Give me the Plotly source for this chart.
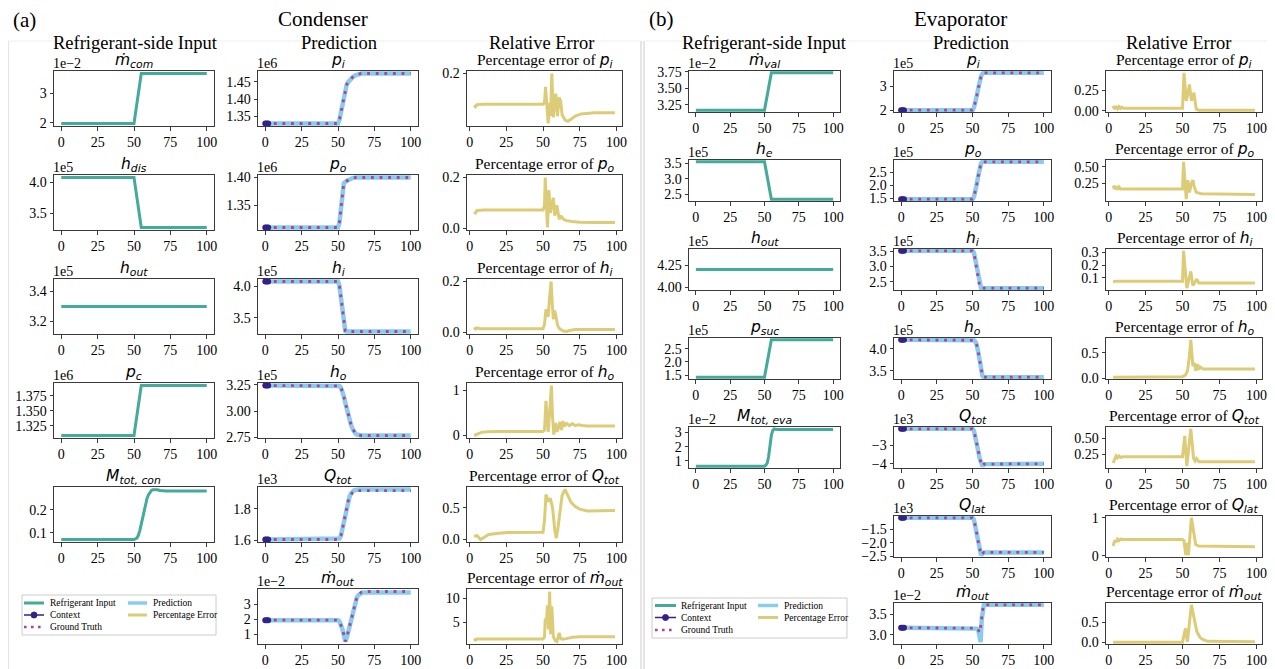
import plotly.graph_objects as go

W, H = 1275, 669
PAGE_OFF = 8  # the browser page margin that offsets the figure
SERIF = "Liberation Serif"
MATHF = "DejaVu Sans"
C_IN, C_PRED, C_GT, C_CTX, C_ERR = "#44AA99", "#88CCEE", "#AA4499", "#332288", "#DDCC77"
FRAME = "#3a3a3a"

# ---------------- Condenser : refrigerant-side inputs ----------------
con_mcom_x = [0, 50, 55, 100]
con_mcom_y = [1.97, 1.97, 3.69, 3.69]
con_hdis_x = [0, 50, 55, 100]
con_hdis_y = [4.08, 4.08, 3.27, 3.27]
con_hout_x = [0, 100]
con_hout_y = [3.30, 3.30]
con_pc_x = [0, 50, 55, 100]
con_pc_y = [1.3085, 1.3085, 1.3925, 1.3925]
con_mtot_x = [0, 50, 52, 53, 54, 55, 56, 57, 58, 59, 60, 61, 62, 63, 64, 66, 68, 72, 100]
con_mtot_y = [0.072, 0.072, 0.078, 0.09, 0.11, 0.14, 0.17, 0.20, 0.23, 0.25, 0.265, 0.277,
              0.283, 0.286, 0.287, 0.286, 0.283, 0.281, 0.281]

# ---------------- Condenser : prediction ----------------
ctx_x = [0, 1, 2]
con_pi_x = [0, 50, 51, 52, 53, 54, 55, 56, 57, 58, 60, 62, 64, 66, 100]
con_pi_gt = [1.329, 1.329, 1.34, 1.36, 1.385, 1.41, 1.43, 1.442, 1.449, 1.455, 1.463, 1.469, 1.472, 1.474, 1.474]
con_pi_pr = [1.329, 1.329, 1.34, 1.36, 1.385, 1.41, 1.43, 1.442, 1.449, 1.455, 1.463, 1.469, 1.472, 1.474, 1.474]
con_po_x = [0, 50, 51, 52, 53, 54, 56, 58, 60, 62, 64, 100]
con_po_gt = [1.311, 1.311, 1.32, 1.345, 1.37, 1.390, 1.394, 1.397, 1.399, 1.400, 1.400, 1.400]
con_po_pr = [1.311, 1.311, 1.32, 1.345, 1.37, 1.390, 1.394, 1.397, 1.399, 1.400, 1.400, 1.400]
con_hi_x = [0, 50, 51, 54, 55, 56, 100]
con_hi_gt = [4.073, 4.073, 4.00, 3.40, 3.29, 3.28, 3.28]
con_hi_pr = [4.073, 4.073, 4.00, 3.40, 3.29, 3.28, 3.28]
con_ho_x = [0, 50, 51, 52, 53, 54, 55, 56, 57, 58, 59, 60, 61, 62, 63, 64, 66, 100]
con_ho_gt = [3.244, 3.244, 3.240, 3.225, 3.19, 3.14, 3.08, 3.02, 2.96, 2.91, 2.865, 2.83, 2.80,
             2.785, 2.775, 2.770, 2.766, 2.766]
con_ho_pr = [3.244, 3.244, 3.240, 3.225, 3.19, 3.14, 3.08, 3.02, 2.96, 2.91, 2.865, 2.83, 2.80,
             2.785, 2.775, 2.770, 2.766, 2.766]
con_qtot_x = [0, 50, 51, 52, 53, 54, 55, 56, 57, 58, 59, 60, 61, 62, 64, 100]
con_qtot_gt = [1.606, 1.606, 1.612, 1.63, 1.67, 1.72, 1.77, 1.815, 1.85, 1.875, 1.893, 1.903,
               1.909, 1.913, 1.915, 1.915]
con_qtot_pr = [1.606, 1.606, 1.612, 1.63, 1.67, 1.72, 1.77, 1.815, 1.852, 1.88, 1.898, 1.910,
               1.916, 1.919, 1.922, 1.922]
con_mout_x = [0, 50, 51, 52, 53, 54, 55, 56, 57, 58, 59, 60, 61, 62, 63, 64, 65, 66, 67, 68, 100]
con_mout_gt = [1.93, 1.93, 1.85, 1.65, 1.35, 0.95, 0.50, 0.75, 1.15, 1.6, 2.05, 2.5, 2.9, 3.25,
               3.5, 3.65, 3.75, 3.81, 3.84, 3.86, 3.86]
con_mout_pr = [1.93, 1.93, 1.85, 1.65, 1.35, 0.95, 0.50, 0.75, 1.15, 1.6, 2.05, 2.5, 2.9, 3.22,
               3.46, 3.62, 3.71, 3.76, 3.79, 3.80, 3.80]

# ---------------- Condenser : relative error ----------------
con_e_pi_x = [3, 4, 5, 10, 50, 51, 51.7, 52.5, 53.5, 54.5, 55.2, 56, 57, 58, 58.7, 59.8, 61, 62, 63,
              65, 67, 69, 72, 76, 85, 99]
con_e_pi_y = [0.080, 0.075, 0.083, 0.084, 0.084, 0.09, 0.15, 0.09, 0.012, 0.09, 0.04, 0.2, 0.035,
              0.10, 0.124, 0.04, 0.11, 0.095, 0.045, 0.025, 0.02, 0.028, 0.04, 0.048, 0.052, 0.052]
con_e_po_x = [3, 4, 5, 10, 50, 51, 51.5, 52.2, 53, 54, 55, 56, 57, 58, 59.5, 61, 62, 64, 66, 70,
              75, 85, 99]
con_e_po_y = [0.065, 0.060, 0.070, 0.072, 0.072, 0.09, 0.2, 0.08, 0.003, 0.15, 0.06, 0.09, 0.12,
              0.05, 0.09, 0.035, 0.05, 0.035, 0.03, 0.027, 0.024, 0.023, 0.023]
con_e_hi_x = [3, 4, 5, 7, 50, 51, 52, 53, 53.5, 54.5, 55.5, 56.3, 57, 58, 59, 60, 61, 62, 64, 66,
              68, 72, 80, 99]
con_e_hi_y = [0.018, 0.012, 0.016, 0.013, 0.013, 0.03, 0.09, 0.075, 0.06, 0.14, 0.2, 0.11, 0.05,
              0.085, 0.05, 0.025, 0.015, 0.01, 0.004, 0.002, 0.006, 0.01, 0.01, 0.01]
con_e_ho_x = [3, 5, 8, 12, 20, 50, 51, 52, 53, 53.5, 54.5, 55.7, 56.5, 57.3, 58.5, 59.5, 60.5,
              61.5, 62.5, 63.5, 64.5, 66, 68, 70, 72, 74, 77, 80, 99]
con_e_ho_y = [0.0, 0.03, 0.07, 0.085, 0.09, 0.09, 0.12, 0.77, 0.3, 0.08, 0.5, 1.11, 0.4, 0.02,
              0.28, 0.08, 0.18, 0.3, 0.12, 0.32, 0.2, 0.27, 0.22, 0.26, 0.22, 0.24, 0.22, 0.21, 0.21]
con_e_qtot_x = [3, 5, 7.5, 10, 13, 20, 26, 50, 51, 52, 53.5, 55, 56.5, 58, 59, 60, 61.5, 63, 65,
                67, 69, 72, 75, 80, 99]
con_e_qtot_y = [0.05, 0.06, 0.0, 0.04, 0.08, 0.10, 0.11, 0.115, 0.3, 0.71, 0.6, 0.65, 0.5, 0.15,
                0.02, 0.15, 0.4, 0.7, 0.79, 0.7, 0.59, 0.52, 0.48, 0.45, 0.46]
con_e_mout_x = [3, 4, 5, 50, 51, 51.5, 52.5, 53, 53.7, 54.5, 55.2, 56, 57, 58.3, 59.5, 61, 62, 63,
                66, 70, 75, 99]
con_e_mout_y = [1.6, 1.3, 1.5, 1.5, 2.0, 5.5, 5.8, 8.5, 3.5, 11.4, 2.5, 8.3, 2.0, 1.2, 1.0, 2.8,
                1.6, 1.5, 1.6, 1.9, 2.0, 2.0]

# ---------------- Evaporator : refrigerant-side inputs ----------------
eva_mval_x = [0, 50, 55, 100]
eva_mval_y = [3.168, 3.168, 3.735, 3.735]
eva_he_x = [0, 50, 55, 100]
eva_he_y = [3.55, 3.55, 2.34, 2.34]
eva_hout_x = [0, 100]
eva_hout_y = [4.20, 4.20]
eva_psuc_x = [0, 50, 55, 100]
eva_psuc_y = [1.43, 1.43, 2.83, 2.83]
eva_mtot_x = [0, 50, 51, 52, 53, 54, 55, 56, 57, 58, 60, 100]
eva_mtot_y = [0.62, 0.62, 0.68, 0.85, 1.3, 2.1, 2.8, 3.15, 3.26, 3.24, 3.22, 3.22]

# ---------------- Evaporator : prediction ----------------
eva_pi_x = [0, 50, 51, 52, 53, 54, 55, 56, 57, 58, 100]
eva_pi_gt = [2.0, 2.0, 2.1, 2.3, 2.6, 2.9, 3.2, 3.42, 3.53, 3.56, 3.56]
eva_pi_pr = [2.0, 2.0, 2.1, 2.3, 2.6, 2.9, 3.2, 3.42, 3.53, 3.56, 3.56]
eva_po_x = [0, 50, 51, 52, 53, 54, 55, 56, 57, 100]
eva_po_gt = [1.47, 1.47, 1.55, 1.75, 2.05, 2.35, 2.65, 2.85, 2.90, 2.90]
eva_po_pr = [1.47, 1.47, 1.55, 1.75, 2.05, 2.35, 2.65, 2.85, 2.90, 2.90]
eva_hi_x = [0, 50, 51, 52, 53, 54, 55, 56, 100]
eva_hi_gt = [3.51, 3.51, 3.45, 3.2, 2.9, 2.6, 2.35, 2.29, 2.29]
eva_hi_pr = [3.51, 3.51, 3.45, 3.2, 2.9, 2.6, 2.35, 2.29, 2.29]
eva_ho_x = [0, 50, 51, 52, 53, 54, 55, 56, 57, 58, 100]
eva_ho_gt = [4.20, 4.20, 4.19, 4.16, 4.08, 3.93, 3.72, 3.52, 3.39, 3.36, 3.36]
eva_ho_pr = [4.20, 4.20, 4.19, 4.16, 4.08, 3.93, 3.72, 3.52, 3.39, 3.36, 3.36]
eva_qtot_x = [0, 50, 51, 52, 53, 54, 55, 56, 57, 58, 100]
eva_qtot_gt = [-2.10, -2.10, -2.2, -2.5, -2.9, -3.3, -3.7, -4.0, -4.13, -4.02, -4.0]
eva_qtot_pr = [-2.10, -2.10, -2.2, -2.5, -2.9, -3.3, -3.7, -4.0, -4.13, -4.02, -4.0]
eva_qlat_x = [0, 50, 51, 52, 53, 54, 55, 56, 57, 58, 100]
eva_qlat_gt = [-1.06, -1.06, -1.12, -1.35, -1.65, -1.95, -2.22, -2.46, -2.40, -2.36, -2.36]
eva_qlat_pr = [-1.06, -1.06, -1.12, -1.35, -1.65, -1.95, -2.22, -2.46, -2.40, -2.36, -2.36]
eva_mout_x = [0, 51, 52, 53, 54, 55, 55.7, 56.5, 57.5, 58, 100]
eva_mout_gt = [3.17, 3.17, 3.17, 3.16, 3.12, 3.05, 3.2, 3.5, 3.7, 3.73, 3.73]
eva_mout_pr = [3.17, 3.17, 3.17, 3.15, 3.12, 2.9, 2.82, 3.4, 3.7, 3.73, 3.73]

# ---------------- Evaporator : relative error ----------------
eva_e_pi_x = [3, 4, 5, 6, 7, 8, 9, 10, 12, 50, 51, 52.5, 53.5, 54.7, 56, 57, 57.7, 59.3, 61, 70, 99]
eva_e_pi_y = [0.06, 0.02, 0.055, 0.025, 0.05, 0.03, 0.045, 0.03, 0.03, 0.03, 0.46, 0.12, 0.2,
              0.32, 0.12, 0.2, 0.22, 0.02, 0.008, 0.008, 0.008]
eva_e_po_x = [3, 4, 5, 6, 7, 8, 10, 50, 50.7, 52.5, 53.6, 54.7, 56, 57, 58, 59.3, 62.7, 99]
eva_e_po_y = [0.22, 0.17, 0.21, 0.16, 0.20, 0.17, 0.17, 0.17, 0.57, 0.02, 0.30, 0.12, 0.25, 0.30,
              0.2, 0.12, 0.10, 0.09]
eva_e_hi_x = [3, 5, 50, 50.7, 52.9, 54.5, 55.6, 57, 58.5, 59.7, 61, 63, 99]
eva_e_hi_y = [0.07, 0.073, 0.073, 0.31, 0.02, 0.1, 0.15, 0.04, 0.07, 0.09, 0.06, 0.06, 0.06]
eva_e_ho_x = [3, 50, 52, 53.4, 54.5, 55.6, 57, 58, 59, 60, 61, 62, 64, 99]
eva_e_ho_y = [0.02, 0.03, 0.06, 0.15, 0.4, 0.76, 0.24, 0.3, 0.15, 0.28, 0.17, 0.22, 0.18, 0.18]
eva_e_qtot_x = [3, 4, 5, 6, 7, 8, 10, 50, 51.5, 52.9, 55.6, 57.5, 58.5, 59.5, 61, 99]
eva_e_qtot_y = [0.11, 0.16, 0.22, 0.19, 0.22, 0.2, 0.21, 0.21, 0.54, 0.06, 0.65, 0.18, 0.14, 0.18,
                0.13, 0.13]
eva_e_qlat_x = [3, 4.2, 5, 6, 7, 8, 10, 50, 51, 52.2, 53.3, 54, 56, 58.9, 61, 99]
eva_e_qlat_y = [0.26, 0.41, 0.36, 0.44, 0.40, 0.44, 0.43, 0.43, 0.40, 0.02, 0.34, 0.02, 1.0, 0.3,
                0.26, 0.24]
eva_e_mout_x = [3, 50, 52, 53.3, 56, 57.8, 59.7, 62, 64, 67, 99]
eva_e_mout_y = [0.01, 0.01, 0.35, 0.02, 0.93, 0.6, 0.27, 0.12, 0.07, 0.03, 0.02]

# ---------------- tick labels ----------------
x_ticks = [0, 25, 50, 75, 100]


def m(base, sub=None):
    s = "<i>%s</i>" % base
    if sub:
        s += "<sub><i>%s</i></sub>" % sub
    return '<span style="font-family:%s">%s</span>' % (MATHF, s)


# ---------------- layout geometry (pixels) ----------------
COLS = {"ci": (54, 214), "cp": (258, 418), "ce": (467, 622),
        "ei": (689, 840), "ep": (894, 1051), "ee": (1106, 1262)}
CON_TOPS, CON_H = [71, 175, 279, 383, 487, 589], 55
EVA_TOPS, EVA_H = [71, 160, 249, 338, 427, 516, 603], 41

# (column, row, kind, series, yticks, yticklabels, offset, title, fixed yrange)
panels = [
    ("ci", 0, "in", (con_mcom_x, con_mcom_y), [2, 3], ["2", "3"], "1e\u22122", m("ṁ", "com"), None),
    ("ci", 1, "in", (con_hdis_x, con_hdis_y), [3.5, 4.0], ["3.5", "4.0"], "1e5", m("h", "dis"), None),
    ("ci", 2, "in", (con_hout_x, con_hout_y), [3.2, 3.4], ["3.2", "3.4"], "1e5", m("h", "out"), [3.116, 3.484]),
    ("ci", 3, "in", (con_pc_x, con_pc_y), [1.325, 1.35, 1.375], ["1.325", "1.350", "1.375"], "1e6", m("p", "c"), None),
    ("ci", 4, "in", (con_mtot_x, con_mtot_y), [0.1, 0.2], ["0.1", "0.2"], "", m("M", "tot, con"), None),
    ("cp", 0, "pr", (con_pi_x, con_pi_gt, con_pi_pr), [1.35, 1.40, 1.45], ["1.35", "1.40", "1.45"], "1e6", m("p", "i"), None),
    ("cp", 1, "pr", (con_po_x, con_po_gt, con_po_pr), [1.35, 1.40], ["1.35", "1.40"], "1e6", m("p", "o"), None),
    ("cp", 2, "pr", (con_hi_x, con_hi_gt, con_hi_pr), [3.5, 4.0], ["3.5", "4.0"], "1e5", m("h", "i"), None),
    ("cp", 3, "pr", (con_ho_x, con_ho_gt, con_ho_pr), [2.75, 3.0, 3.25], ["2.75", "3.00", "3.25"], "1e5", m("h", "o"), None),
    ("cp", 4, "pr", (con_qtot_x, con_qtot_gt, con_qtot_pr), [1.6, 1.8], ["1.6", "1.8"], "1e3", m("Q", "tot"), None),
    ("cp", 5, "pr", (con_mout_x, con_mout_gt, con_mout_pr), [1, 2, 3], ["1", "2", "3"], "1e\u22122", m("ṁ", "out"), None),
    ("ce", 0, "er", (con_e_pi_x, con_e_pi_y), [0.0, 0.2], ["0.0", "0.2"], "", "Percentage error of " + m("p", "i"), None),
    ("ce", 1, "er", (con_e_po_x, con_e_po_y), [0.0, 0.2], ["0.0", "0.2"], "", "Percentage error of " + m("p", "o"), None),
    ("ce", 2, "er", (con_e_hi_x, con_e_hi_y), [0.0, 0.2], ["0.0", "0.2"], "", "Percentage error of " + m("h", "i"), None),
    ("ce", 3, "er", (con_e_ho_x, con_e_ho_y), [0, 1], ["0", "1"], "", "Percentage error of " + m("h", "o"), None),
    ("ce", 4, "er", (con_e_qtot_x, con_e_qtot_y), [0.0, 0.5], ["0.0", "0.5"], "", "Percentage error of " + m("Q", "tot"), None),
    ("ce", 5, "er", (con_e_mout_x, con_e_mout_y), [5, 10], ["5", "10"], "", "Percentage error of " + m("ṁ", "out"), None),
    ("ei", 0, "in", (eva_mval_x, eva_mval_y), [3.25, 3.5, 3.75], ["3.25", "3.50", "3.75"], "1e\u22122", m("ṁ", "val"), None),
    ("ei", 1, "in", (eva_he_x, eva_he_y), [2.5, 3.0, 3.5], ["2.5", "3.0", "3.5"], "1e5", m("h", "e"), None),
    ("ei", 2, "in", (eva_hout_x, eva_hout_y), [4.0, 4.25], ["4.00", "4.25"], "1e5", m("h", "out"), [3.969, 4.431]),
    ("ei", 3, "in", (eva_psuc_x, eva_psuc_y), [1.5, 2.0, 2.5], ["1.5", "2.0", "2.5"], "1e5", m("p", "suc"), None),
    ("ei", 4, "in", (eva_mtot_x, eva_mtot_y), [1, 2, 3], ["1", "2", "3"], "1e\u22122", m("M", "tot, eva"), None),
    ("ep", 0, "pr", (eva_pi_x, eva_pi_gt, eva_pi_pr), [2, 3], ["2", "3"], "1e5", m("p", "i"), None),
    ("ep", 1, "pr", (eva_po_x, eva_po_gt, eva_po_pr), [1.5, 2.0, 2.5], ["1.5", "2.0", "2.5"], "1e5", m("p", "o"), None),
    ("ep", 2, "pr", (eva_hi_x, eva_hi_gt, eva_hi_pr), [2.5, 3.0, 3.5], ["2.5", "3.0", "3.5"], "1e5", m("h", "i"), None),
    ("ep", 3, "pr", (eva_ho_x, eva_ho_gt, eva_ho_pr), [3.5, 4.0], ["3.5", "4.0"], "1e5", m("h", "o"), None),
    ("ep", 4, "pr", (eva_qtot_x, eva_qtot_gt, eva_qtot_pr), [-4, -3], ["\u22124", "\u22123"], "1e3", m("Q", "tot"), None),
    ("ep", 5, "pr", (eva_qlat_x, eva_qlat_gt, eva_qlat_pr), [-2.5, -2.0, -1.5], ["\u22122.5", "\u22122.0", "\u22121.5"], "1e3", m("Q", "lat"), None),
    ("ep", 6, "pr", (eva_mout_x, eva_mout_gt, eva_mout_pr), [3.0, 3.5], ["3.0", "3.5"], "1e\u22122", m("ṁ", "out"), None),
    ("ee", 0, "er", (eva_e_pi_x, eva_e_pi_y), [0.0, 0.25], ["0.00", "0.25"], "", "Percentage error of " + m("p", "i"), None),
    ("ee", 1, "er", (eva_e_po_x, eva_e_po_y), [0.25, 0.5], ["0.25", "0.50"], "", "Percentage error of " + m("p", "o"), None),
    ("ee", 2, "er", (eva_e_hi_x, eva_e_hi_y), [0.1, 0.2, 0.3], ["0.1", "0.2", "0.3"], "", "Percentage error of " + m("h", "i"), None),
    ("ee", 3, "er", (eva_e_ho_x, eva_e_ho_y), [0.0, 0.5], ["0.0", "0.5"], "", "Percentage error of " + m("h", "o"), None),
    ("ee", 4, "er", (eva_e_qtot_x, eva_e_qtot_y), [0.25, 0.5], ["0.25", "0.50"], "", "Percentage error of " + m("Q", "tot"), None),
    ("ee", 5, "er", (eva_e_qlat_x, eva_e_qlat_y), [0, 1], ["0", "1"], "", "Percentage error of " + m("Q", "lat"), None),
    ("ee", 6, "er", (eva_e_mout_x, eva_e_mout_y), [0.0, 0.5], ["0.0", "0.5"], "", "Percentage error of " + m("ṁ", "out"), None),
]


def fx(px):
    return (px - PAGE_OFF) / W


def fy(py):
    return 1 - (py - PAGE_OFF) / H


fig = go.Figure()
layout = dict(template="none", width=W, height=H, margin=dict(l=0, r=0, t=0, b=0, pad=0, autoexpand=False),
              paper_bgcolor="white", plot_bgcolor="white", showlegend=False,
              font=dict(family=SERIF, size=14, color="black"))
annotations = []
shapes = []

axis_common = dict(showline=True, linecolor=FRAME, linewidth=1, mirror=True, showgrid=False,
                   zeroline=False, ticks="outside", ticklen=3.5, tickwidth=1, tickcolor=FRAME,
                   automargin=False, ticklabelstandoff=0,
                   tickfont=dict(family=SERIF, size=14, color="black"))

for k, (col, row, kind, ser, yt, ytl, off, title, yfix) in enumerate(panels, start=1):
    x0, x1 = COLS[col]
    evap = col.startswith("e")
    top = (EVA_TOPS if evap else CON_TOPS)[row]
    hh = EVA_H if evap else CON_H
    xa = "x%d" % k
    ya = "y%d" % k
    xs = ser[0]
    if kind == "in":
        fig.add_trace(go.Scatter(x=xs, y=ser[1], mode="lines", line=dict(color=C_IN, width=3),
                                 xaxis=xa, yaxis=ya))
        yall = list(ser[1])
    elif kind == "er":
        fig.add_trace(go.Scatter(x=xs, y=ser[1], mode="lines", line=dict(color=C_ERR, width=3),
                                 xaxis=xa, yaxis=ya))
        yall = list(ser[1])
    else:
        gt, pr = ser[1], ser[2]
        fig.add_trace(go.Scatter(x=[2] + xs[1:], y=pr, mode="lines", line=dict(color=C_PRED, width=4.5),
                                 xaxis=xa, yaxis=ya))
        fig.add_trace(go.Scatter(x=xs, y=gt, mode="lines", line=dict(color=C_GT, width=2.8, dash="2.8px,5.8px"),
                                 xaxis=xa, yaxis=ya))
        fig.add_trace(go.Scatter(x=ctx_x, y=[gt[0]] * len(ctx_x), mode="lines+markers",
                                 line=dict(color=C_CTX, width=1.5), marker=dict(color=C_CTX, size=6),
                                 xaxis=xa, yaxis=ya))
        yall = list(gt) + list(pr)
    if yfix is None:
        lo, hi = min(yall), max(yall)
        pad = 0.05 * (hi - lo)
        yr = [lo - pad, hi + pad]
    else:
        yr = yfix
    xmin, xmax = min(xs), max(xs)
    xpad = 0.05 * (xmax - xmin)
    xr = [xmin - xpad, xmax + xpad]
    layout["xaxis%d" % k] = dict(axis_common, domain=[fx(x0), fx(x1)], range=xr, tickvals=x_ticks,
                                 ticktext=[str(v) for v in x_ticks], anchor=ya)
    layout["yaxis%d" % k] = dict(axis_common, domain=[fy(top + hh), fy(top)], range=yr, tickvals=yt,
                                 ticktext=ytl, anchor=xa)
    is_err = kind == "er"
    annotations.append(dict(text=title, xref="paper", yref="paper", x=fx((x0 + x1) / 2), y=fy(top),
                            xanchor="center", yanchor="bottom", showarrow=False, yshift=-2,
                            font=dict(family=SERIF if is_err else MATHF, size=15.5, color="black")))
    if off:
        annotations.append(dict(text=off, xref="paper", yref="paper", x=fx(x0), y=fy(top),
                                xanchor="left", yanchor="bottom", showarrow=False, yshift=-2, xshift=-3,
                                font=dict(family=SERIF, size=14, color="black")))

# section headers
headers = [("(a)", 12, 20, "left", 21), ("Condenser", 323, 19, "center", 21),
           ("Refrigerant-side Input", 135, 43, "center", 18.5), ("Prediction", 339, 43, "center", 18.5),
           ("Relative Error", 541, 43, "center", 18.5),
           ("(b)", 648, 19, "left", 21), ("Evaporator", 960, 19, "center", 21),
           ("Refrigerant-side Input", 764, 43, "center", 18.5), ("Prediction", 971, 43, "center", 18.5),
           ("Relative Error", 1178, 43, "center", 18.5)]
for txt, px, py, anc, sz in headers:
    annotations.append(dict(text=txt, xref="paper", yref="paper", x=fx(px), y=fy(py), xanchor=anc,
                            yanchor="middle", showarrow=False, borderpad=0,
                            font=dict(family=SERIF, size=sz, color="black")))

# frame lines of the two sub-figures
for xl in (8, 641, 644):
    shapes.append(dict(type="line", xref="paper", yref="paper", x0=fx(xl), x1=fx(xl), y0=fy(41), y1=fy(669),
                       line=dict(color="#d4d4d4", width=1.2)))
shapes.append(dict(type="line", xref="paper", yref="paper", x0=fx(8), x1=fx(641), y0=fy(41), y1=fy(41),
                   line=dict(color="#efefef", width=1)))
shapes.append(dict(type="line", xref="paper", yref="paper", x0=fx(644), x1=fx(1275), y0=fy(41), y1=fy(41),
                   line=dict(color="#efefef", width=1)))

# legends (drawn as a key box)
legend_entries = [("Refrigerant Input", C_IN, "solid", 0, 0), ("Context", C_CTX, "ctx", 0, 1),
                  ("Ground Truth", C_GT, "dot", 0, 2), ("Prediction", C_PRED, "solid", 1, 0),
                  ("Percentage Error", C_ERR, "solid", 1, 1)]
legend_boxes = [dict(box=(22, 595, 216, 635), rows=(603, 615, 627), cols=((24, 44, 50), (128, 147, 153))),
                dict(box=(652, 598, 847, 638), rows=(605.5, 617.5, 630), cols=((655, 676, 681), (758, 778, 784)))]
for lb in legend_boxes:
    bx0, by0, bx1, by1 = lb["box"]
    shapes.append(dict(type="rect", xref="paper", yref="paper", x0=fx(bx0), x1=fx(bx1), y0=fy(by1), y1=fy(by0),
                       line=dict(color="#cccccc", width=1), fillcolor="white"))
    for name, colr, sty, ci, ri in legend_entries:
        sx0, sx1, tx = lb["cols"][ci]
        yy = lb["rows"][ri]
        if sty == "dot":
            ln = dict(color=colr, width=2.6, dash="2.6px,4.4px")
        elif sty == "ctx":
            ln = dict(color=colr, width=1.5)
        else:
            ln = dict(color=colr, width=3 if colr != C_PRED else 3.5)
        shapes.append(dict(type="line", xref="paper", yref="paper", x0=fx(sx0), x1=fx(sx1), y0=fy(yy), y1=fy(yy),
                           line=ln))
        if sty == "ctx":
            cx = (sx0 + sx1) / 2
            shapes.append(dict(type="circle", xref="paper", yref="paper", x0=fx(cx - 3), x1=fx(cx + 3),
                               y0=fy(yy + 3), y1=fy(yy - 3), line=dict(color=colr, width=1), fillcolor=colr))
        annotations.append(dict(text=name, xref="paper", yref="paper", x=fx(tx), y=fy(yy), xanchor="left",
                                yanchor="middle", showarrow=False, xshift=-2,
                                font=dict(family=SERIF, size=9.5, color="black")))

layout["annotations"] = annotations
layout["shapes"] = shapes
fig.update_layout(**layout)
fig.write_html("out.html")
